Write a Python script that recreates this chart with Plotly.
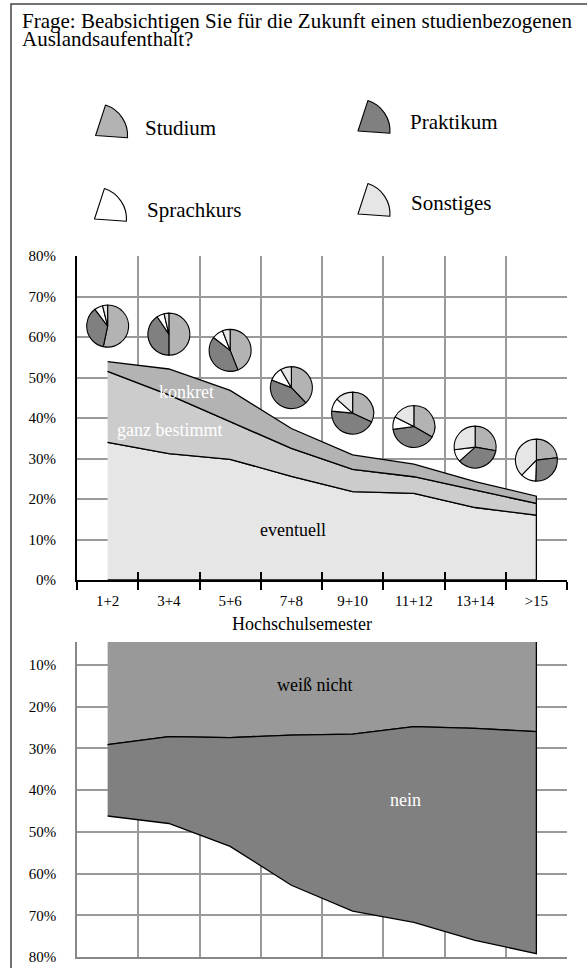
import numpy as np
import plotly.graph_objects as go

# categories (Hochschulsemester)
semester = ["1+2", "3+4", "5+6", "7+8", "9+10", "11+12", "13+14", ">15"]

# upper chart: "ja" answers, stacked (percent)
eventuell = [34.0, 31.2, 29.8, 25.6, 21.8, 21.4, 17.9, 16.0]
ganz_bestimmt = [17.5, 14.5, 9.3, 6.9, 5.5, 4.1, 4.3, 2.9]
konkret = [2.4, 6.4, 7.7, 4.9, 3.6, 3.1, 2.1, 1.8]

# lower chart (percent, axis reversed)
weiss_nicht = [29.1, 27.2, 27.4, 26.8, 26.6, 24.8, 25.2, 26.0]
nein = [17.1, 20.8, 26.1, 36.0, 42.4, 46.9, 50.8, 53.2]

# pies: kind of stay abroad, per semester group
pie_labels = ["Studium", "Praktikum", "Sprachkurs", "Sonstiges"]
pie_studium = [53.3, 50.0, 44.0, 37.9, 32.0, 33.3, 27.8, 23.2]
pie_praktikum = [36.4, 40.6, 41.5, 43.0, 44.5, 39.5, 35.6, 27.3]
pie_sprachkurs = [6.4, 5.7, 8.6, 10.7, 10.1, 9.6, 9.7, 11.8]
pie_sonstiges = [3.9, 3.7, 5.9, 8.4, 13.4, 17.6, 27.0, 37.7]
pie_height = [62.7, 60.7, 56.7, 47.5, 41.2, 37.9, 32.8, 29.6]

top_ticks = list(range(0, 81, 10))
bottom_ticks = list(range(10, 81, 10))

pie_colors = ["#b3b3b3", "#808080", "#ffffff", "#e6e6e6"]

W, H = 587, 968
FONT = "Liberation Serif, Times New Roman, DejaVu Serif, serif"

# plot area in pixels
X0, X1 = 77, 567
TOP_Y0, TOP_Y80 = 580, 256
BOT_TOP, BOT_Y80 = 642, 957
BOT_RANGE = [80, 4.5]
PIE_R = 21


def px(v):
    return v / W


def py(v):
    return 1 - v / H


fig = go.Figure()

# upper chart bands
lower = np.zeros(len(semester))
for vals, color in [(eventuell, "#e6e6e6"), (ganz_bestimmt, "#cccccc"), (konkret, "#b3b3b3")]:
    upper = lower + np.array(vals)
    fig.add_trace(go.Scatter(
        x=semester + semester[::-1],
        y=list(upper) + list(lower[::-1]),
        fill="toself", fillcolor=color, mode="lines",
        line=dict(color="black", width=1.3),
        xaxis="x", yaxis="y", hoverinfo="skip", showlegend=False,
    ))
    lower = upper

# lower chart bands
wn = np.array(weiss_nicht)
fig.add_trace(go.Scatter(
    x=semester + semester[::-1],
    y=[0] * len(semester) + list(wn[::-1]),
    fill="toself", fillcolor="#999999", mode="lines",
    line=dict(color="black", width=1.3),
    xaxis="x2", yaxis="y2", hoverinfo="skip", showlegend=False,
))
fig.add_trace(go.Scatter(
    x=semester + semester[::-1],
    y=list(wn) + list((wn + np.array(nein))[::-1]),
    fill="toself", fillcolor="#808080", mode="lines",
    line=dict(color="black", width=1.3),
    xaxis="x2", yaxis="y2", hoverinfo="skip", showlegend=False,
))

# invisible trace so the overlay axis (inner tick marks) gets drawn
fig.add_trace(go.Scatter(x=semester, y=eventuell, xaxis="x3", yaxis="y", mode="lines",
                         line=dict(width=0), opacity=0, hoverinfo="skip", showlegend=False))

# pies placed over the upper chart
col_w = (X1 - X0) / len(semester)
for i in range(len(semester)):
    cx = X0 + (i + 0.5) * col_w
    cy = TOP_Y0 - pie_height[i] * (TOP_Y0 - TOP_Y80) / 80
    fig.add_trace(go.Pie(
        labels=pie_labels,
        values=[pie_studium[i], pie_praktikum[i], pie_sprachkurs[i], pie_sonstiges[i]],
        sort=False, direction="clockwise", rotation=0,
        marker=dict(colors=pie_colors, line=dict(color="black", width=1.1)),
        textinfo="none", hoverinfo="label+percent", showlegend=False,
        domain=dict(x=[px(cx - PIE_R), px(cx + PIE_R)], y=[py(cy + PIE_R), py(cy - PIE_R)]),
    ))

# legend wedges
legend_items = [
    ("Studium", pie_colors[0], 95.6, 135.5, 142.5, 127.5),
    ("Praktikum", pie_colors[1], 358, 131, 407.5, 122),
    ("Sprachkurs", pie_colors[2], 94.5, 219, 145, 210.5),
    ("Sonstiges", pie_colors[3], 358, 214, 409, 203.5),
]
LEG_R = 32
for name, color, vx, vy, tx, ty in legend_items:
    fig.add_trace(go.Pie(
        values=[76, 284], sort=False, direction="clockwise", rotation=18,
        marker=dict(colors=[color, "rgba(0,0,0,0)"],
                    line=dict(color=["black", "rgba(0,0,0,0)"], width=1.1)),
        textinfo="none", hoverinfo="skip", showlegend=False,
        domain=dict(x=[px(vx - LEG_R), px(vx + LEG_R)], y=[py(vy + LEG_R), py(vy - LEG_R)]),
    ))
    fig.add_annotation(text=name, xref="paper", yref="paper", x=px(tx), y=py(ty),
                       xanchor="left", yanchor="middle", showarrow=False,
                       font=dict(size=21, color="black", family=FONT))

# title
for line, yc in [("Frage: Beabsichtigen Sie für die Zukunft einen studienbezogenen", 21),
                 ("Auslandsaufenthalt?", 39.5)]:
    fig.add_annotation(text=line, xref="paper", yref="paper", x=px(19.5), y=py(yc),
                       xanchor="left", yanchor="middle", showarrow=False,
                       font=dict(size=21, color="black", family=FONT))

# band labels
band_labels = [
    ("konkret", 1.28, 46.5, "white", "x", "y"),
    ("ganz bestimmt", 1.01, 37.0, "white", "x", "y"),
    ("eventuell", 3.03, 12.3, "black", "x", "y"),
    ("weiß nicht", 3.37, 14.8, "black", "x2", "y2"),
    ("nein", 4.87, 42.4, "white", "x2", "y2"),
]
for text, x, y, color, xr, yr in band_labels:
    fig.add_annotation(text=text, x=x, y=y, xref=xr, yref=yr, showarrow=False,
                       font=dict(size=18, color=color, family=FONT))

fig.add_annotation(text="Hochschulsemester", xref="paper", yref="paper",
                   x=px(302), y=py(624), showarrow=False,
                   font=dict(size=18, color="black", family=FONT))

# outer frame
fig.add_shape(type="rect", xref="paper", yref="paper",
              x0=px(11), x1=1.05, y0=-0.05, y1=py(4),
              line=dict(color="#444444", width=1.5))

grid = "#9a9a9a"
tickfont = dict(size=15, color="black", family=FONT)
fig.update_layout(
    template="none",
    width=W, height=H, autosize=False,
    margin=dict(l=0, r=0, t=0, b=0),
    paper_bgcolor="white", plot_bgcolor="rgba(0,0,0,0)",
    font=dict(family=FONT, color="black"),
    xaxis=dict(
        domain=[px(X0), px(X1)], anchor="y", type="category",
        categoryorder="array", categoryarray=semester, range=[-0.5, 7.5],
        tickson="boundaries", showgrid=True, gridcolor=grid, gridwidth=1.5,
        ticks="outside", ticklen=8, tickwidth=1.5, tickcolor="black",
        showline=True, linecolor="black", linewidth=2,
        tickfont=tickfont, ticklabelstandoff=6, zeroline=False, automargin=False,
    ),
    xaxis3=dict(
        overlaying="x", anchor="y", side="bottom", type="category",
        categoryorder="array", categoryarray=semester, range=[-0.5, 7.5],
        tickson="boundaries", showgrid=False, showticklabels=False,
        ticks="inside", ticklen=8, tickwidth=1.5, tickcolor="black",
        showline=False, zeroline=False, automargin=False,
    ),
    yaxis=dict(
        domain=[py(TOP_Y0), py(TOP_Y80)], anchor="x", range=[0, 80],
        tickmode="array", tickvals=top_ticks, ticktext=[f"{v}%" for v in top_ticks],
        showgrid=True, gridcolor=grid, gridwidth=1.5, ticks="",
        showline=True, linecolor="black", linewidth=2,
        tickfont=tickfont, ticklabelstandoff=16, zeroline=False, automargin=False,
    ),
    xaxis2=dict(
        domain=[px(X0), px(X1)], anchor="y2", type="category",
        categoryorder="array", categoryarray=semester, range=[-0.5, 7.5],
        tickson="boundaries", showgrid=True, gridcolor=grid, gridwidth=1.5,
        ticks="", showticklabels=False,
        showline=True, linecolor="#888888", linewidth=1.5,
        zeroline=False, automargin=False,
    ),
    yaxis2=dict(
        domain=[py(BOT_Y80), py(BOT_TOP)], anchor="x2", range=BOT_RANGE,
        tickmode="array", tickvals=bottom_ticks, ticktext=[f"{v}%" for v in bottom_ticks],
        showgrid=True, gridcolor=grid, gridwidth=1.5, ticks="",
        showline=True, linecolor="#888888", linewidth=1.5,
        tickfont=tickfont, ticklabelstandoff=16, zeroline=False, automargin=False,
    ),
)

# the page's default body margin would shift the figure by 8px
fig.write_html("out.html", config={"displayModeBar": False},
               post_script="document.body.style.margin='0px';")
